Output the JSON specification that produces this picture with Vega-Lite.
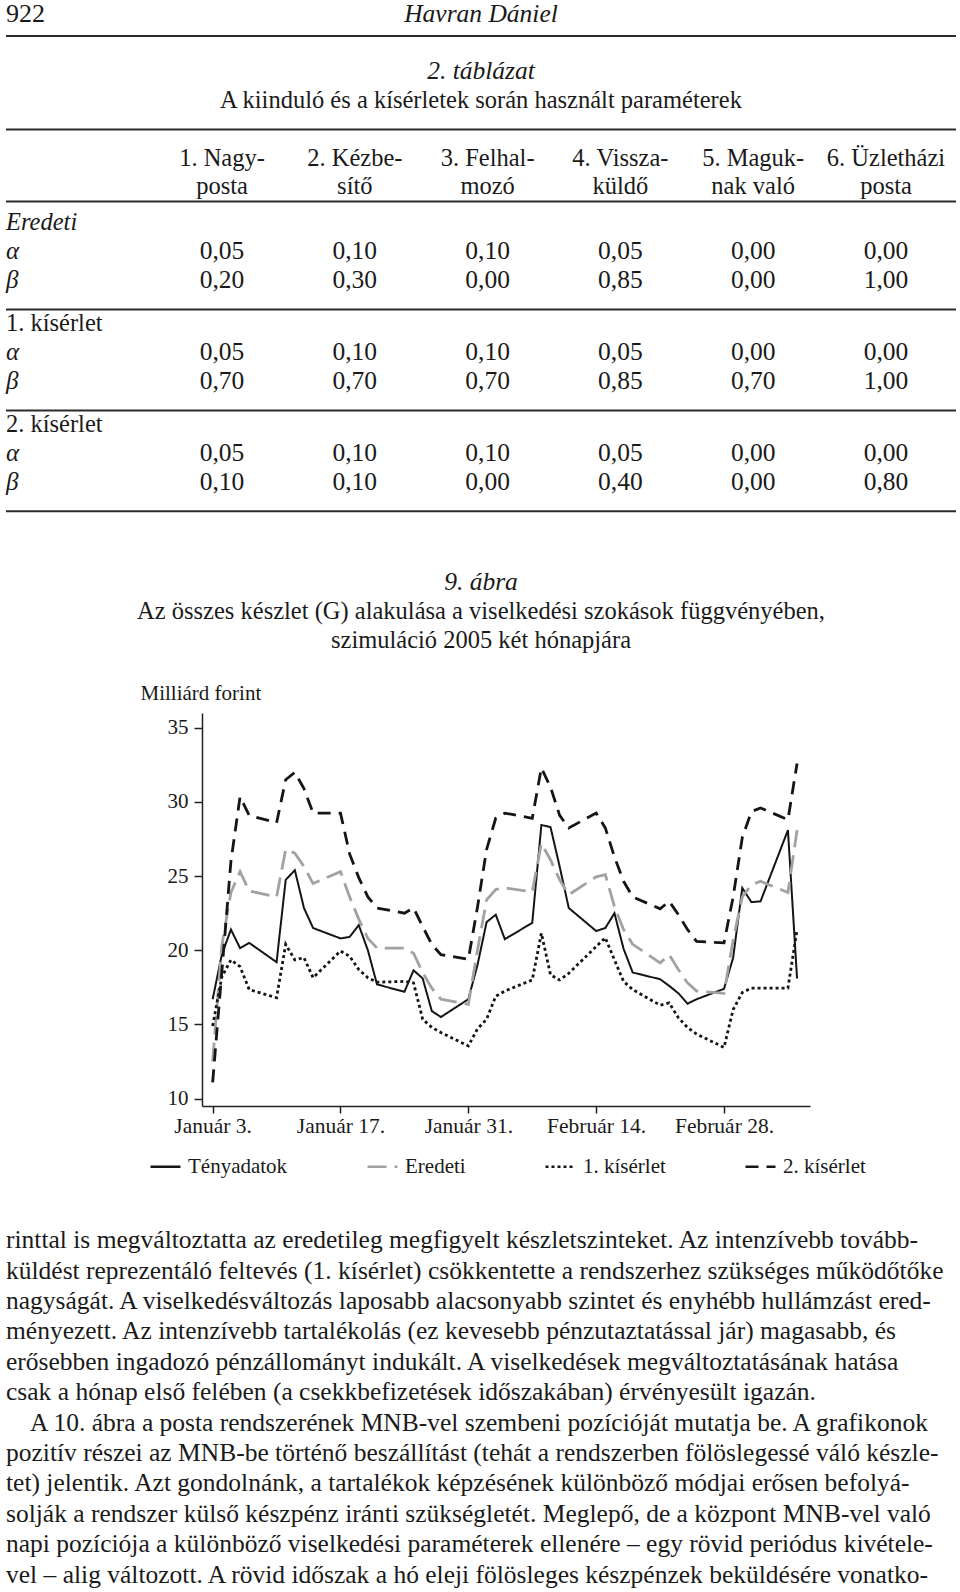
{
  "$schema": "https://vega.github.io/schema/vega-lite/v6.json",
  "padding": {"left": 5, "right": 5, "top": 0, "bottom": 0},
  "autosize": {"type": "pad"},
  "background": "white",
  "config": {
    "view": {"stroke": null},
    "font": "Liberation Serif",
    "locale": {"number": {"decimal": ",", "thousands": " ", "grouping": [3], "currency": ["", " Ft"]}},
    "text": {"font": "Liberation Serif", "color": "#1a1a1a"}
  },
  "datasets": {
    "rules": [
      {"row": "rule-head"}, {"row": "rule-top"}, {"row": "rule-colhead"},
      {"row": "rule-1"}, {"row": "rule-2"}, {"row": "rule-bottom"}
    ],
    "page": [
      {"role": "folio", "row": "folio", "text": "922"},
      {"role": "author", "row": "folio", "text": "Havran Dániel"},
      {"role": "tabno", "row": "tabno", "text": "2. táblázat"},
      {"role": "tabtitle", "row": "tabtitle", "text": "A kiinduló és a kísérletek során használt paraméterek"},
      {"role": "figno", "row": "figno", "text": "9. ábra"},
      {"role": "figtitle", "row": "figtitle1", "text": "Az összes készlet (G) alakulása a viselkedési szokások függvényében,"},
      {"role": "figtitle", "row": "figtitle2", "text": "szimuláció 2005 két hónapjára"}
    ],
    "colheads": [
      {"col": "1. Nagyposta", "row": "colhead1", "text": "1. Nagy-"},
      {"col": "1. Nagyposta", "row": "colhead2", "text": "posta"},
      {"col": "2. Kézbesítő", "row": "colhead1", "text": "2. Kézbe-"},
      {"col": "2. Kézbesítő", "row": "colhead2", "text": "sítő"},
      {"col": "3. Felhalmozó", "row": "colhead1", "text": "3. Felhal-"},
      {"col": "3. Felhalmozó", "row": "colhead2", "text": "mozó"},
      {"col": "4. Visszaküldő", "row": "colhead1", "text": "4. Vissza-"},
      {"col": "4. Visszaküldő", "row": "colhead2", "text": "küldő"},
      {"col": "5. Maguknak való", "row": "colhead1", "text": "5. Maguk-"},
      {"col": "5. Maguknak való", "row": "colhead2", "text": "nak való"},
      {"col": "6. Üzletházi posta", "row": "colhead1", "text": "6. Üzletházi"},
      {"col": "6. Üzletházi posta", "row": "colhead2", "text": "posta"}
    ],
    "groups": [
      {"row": "Eredeti", "label": "Eredeti"},
      {"row": "1. kísérlet", "label": "1. kísérlet"},
      {"row": "2. kísérlet", "label": "2. kísérlet"}
    ],
    "paramlabels": [
      {"row": "Eredeti α", "label": "α"}, {"row": "Eredeti β", "label": "β"},
      {"row": "1. kísérlet α", "label": "α"}, {"row": "1. kísérlet β", "label": "β"},
      {"row": "2. kísérlet α", "label": "α"}, {"row": "2. kísérlet β", "label": "β"}
    ],
    "params": [
      {"row": "Eredeti α", "col": "1. Nagyposta", "value": 0.05},
      {"row": "Eredeti α", "col": "2. Kézbesítő", "value": 0.10},
      {"row": "Eredeti α", "col": "3. Felhalmozó", "value": 0.10},
      {"row": "Eredeti α", "col": "4. Visszaküldő", "value": 0.05},
      {"row": "Eredeti α", "col": "5. Maguknak való", "value": 0.00},
      {"row": "Eredeti α", "col": "6. Üzletházi posta", "value": 0.00},
      {"row": "Eredeti β", "col": "1. Nagyposta", "value": 0.20},
      {"row": "Eredeti β", "col": "2. Kézbesítő", "value": 0.30},
      {"row": "Eredeti β", "col": "3. Felhalmozó", "value": 0.00},
      {"row": "Eredeti β", "col": "4. Visszaküldő", "value": 0.85},
      {"row": "Eredeti β", "col": "5. Maguknak való", "value": 0.00},
      {"row": "Eredeti β", "col": "6. Üzletházi posta", "value": 1.00},
      {"row": "1. kísérlet α", "col": "1. Nagyposta", "value": 0.05},
      {"row": "1. kísérlet α", "col": "2. Kézbesítő", "value": 0.10},
      {"row": "1. kísérlet α", "col": "3. Felhalmozó", "value": 0.10},
      {"row": "1. kísérlet α", "col": "4. Visszaküldő", "value": 0.05},
      {"row": "1. kísérlet α", "col": "5. Maguknak való", "value": 0.00},
      {"row": "1. kísérlet α", "col": "6. Üzletházi posta", "value": 0.00},
      {"row": "1. kísérlet β", "col": "1. Nagyposta", "value": 0.70},
      {"row": "1. kísérlet β", "col": "2. Kézbesítő", "value": 0.70},
      {"row": "1. kísérlet β", "col": "3. Felhalmozó", "value": 0.70},
      {"row": "1. kísérlet β", "col": "4. Visszaküldő", "value": 0.85},
      {"row": "1. kísérlet β", "col": "5. Maguknak való", "value": 0.70},
      {"row": "1. kísérlet β", "col": "6. Üzletházi posta", "value": 1.00},
      {"row": "2. kísérlet α", "col": "1. Nagyposta", "value": 0.05},
      {"row": "2. kísérlet α", "col": "2. Kézbesítő", "value": 0.10},
      {"row": "2. kísérlet α", "col": "3. Felhalmozó", "value": 0.10},
      {"row": "2. kísérlet α", "col": "4. Visszaküldő", "value": 0.05},
      {"row": "2. kísérlet α", "col": "5. Maguknak való", "value": 0.00},
      {"row": "2. kísérlet α", "col": "6. Üzletházi posta", "value": 0.00},
      {"row": "2. kísérlet β", "col": "1. Nagyposta", "value": 0.10},
      {"row": "2. kísérlet β", "col": "2. Kézbesítő", "value": 0.10},
      {"row": "2. kísérlet β", "col": "3. Felhalmozó", "value": 0.00},
      {"row": "2. kísérlet β", "col": "4. Visszaküldő", "value": 0.40},
      {"row": "2. kísérlet β", "col": "5. Maguknak való", "value": 0.00},
      {"row": "2. kísérlet β", "col": "6. Üzletházi posta", "value": 0.80}
    ],
    "series": [
      {"date": "2005-01-03", "series": "Tényadatok", "value": 16.7},
      {"date": "2005-01-04", "series": "Tényadatok", "value": 19.7},
      {"date": "2005-01-05", "series": "Tényadatok", "value": 21.4},
      {"date": "2005-01-06", "series": "Tényadatok", "value": 20.15},
      {"date": "2005-01-07", "series": "Tényadatok", "value": 20.5},
      {"date": "2005-01-10", "series": "Tényadatok", "value": 19.2},
      {"date": "2005-01-11", "series": "Tényadatok", "value": 24.75},
      {"date": "2005-01-12", "series": "Tényadatok", "value": 25.4},
      {"date": "2005-01-13", "series": "Tényadatok", "value": 22.85},
      {"date": "2005-01-14", "series": "Tényadatok", "value": 21.5},
      {"date": "2005-01-17", "series": "Tényadatok", "value": 20.8},
      {"date": "2005-01-18", "series": "Tényadatok", "value": 20.9},
      {"date": "2005-01-19", "series": "Tényadatok", "value": 21.7},
      {"date": "2005-01-20", "series": "Tényadatok", "value": 20.0},
      {"date": "2005-01-21", "series": "Tényadatok", "value": 17.7},
      {"date": "2005-01-24", "series": "Tényadatok", "value": 17.2},
      {"date": "2005-01-25", "series": "Tényadatok", "value": 18.65},
      {"date": "2005-01-26", "series": "Tényadatok", "value": 18.1},
      {"date": "2005-01-27", "series": "Tényadatok", "value": 15.9},
      {"date": "2005-01-28", "series": "Tényadatok", "value": 15.5},
      {"date": "2005-01-31", "series": "Tényadatok", "value": 16.7},
      {"date": "2005-02-01", "series": "Tényadatok", "value": 19.0},
      {"date": "2005-02-02", "series": "Tényadatok", "value": 21.9},
      {"date": "2005-02-03", "series": "Tényadatok", "value": 22.4},
      {"date": "2005-02-04", "series": "Tényadatok", "value": 20.75},
      {"date": "2005-02-07", "series": "Tényadatok", "value": 21.85},
      {"date": "2005-02-08", "series": "Tényadatok", "value": 28.45},
      {"date": "2005-02-09", "series": "Tényadatok", "value": 28.3},
      {"date": "2005-02-10", "series": "Tényadatok", "value": 25.65},
      {"date": "2005-02-11", "series": "Tényadatok", "value": 22.85},
      {"date": "2005-02-14", "series": "Tényadatok", "value": 21.3},
      {"date": "2005-02-15", "series": "Tényadatok", "value": 21.5},
      {"date": "2005-02-16", "series": "Tényadatok", "value": 22.5},
      {"date": "2005-02-17", "series": "Tényadatok", "value": 20.1},
      {"date": "2005-02-18", "series": "Tényadatok", "value": 18.5},
      {"date": "2005-02-21", "series": "Tényadatok", "value": 18.05},
      {"date": "2005-02-22", "series": "Tényadatok", "value": 17.6},
      {"date": "2005-02-23", "series": "Tényadatok", "value": 17.1},
      {"date": "2005-02-24", "series": "Tényadatok", "value": 16.4},
      {"date": "2005-02-25", "series": "Tényadatok", "value": 16.7},
      {"date": "2005-02-28", "series": "Tényadatok", "value": 17.4},
      {"date": "2005-03-01", "series": "Tényadatok", "value": 19.5},
      {"date": "2005-03-02", "series": "Tényadatok", "value": 24.2},
      {"date": "2005-03-03", "series": "Tényadatok", "value": 23.25},
      {"date": "2005-03-04", "series": "Tényadatok", "value": 23.3},
      {"date": "2005-03-07", "series": "Tényadatok", "value": 28.1},
      {"date": "2005-03-08", "series": "Tényadatok", "value": 18.1},
      {"date": "2005-01-03", "series": "Eredeti", "value": 12.5},
      {"date": "2005-01-04", "series": "Eredeti", "value": 20.3},
      {"date": "2005-01-05", "series": "Eredeti", "value": 23.9},
      {"date": "2005-01-06", "series": "Eredeti", "value": 25.3},
      {"date": "2005-01-07", "series": "Eredeti", "value": 24.0},
      {"date": "2005-01-10", "series": "Eredeti", "value": 23.6},
      {"date": "2005-01-11", "series": "Eredeti", "value": 26.8},
      {"date": "2005-01-12", "series": "Eredeti", "value": 26.55},
      {"date": "2005-01-13", "series": "Eredeti", "value": 25.65},
      {"date": "2005-01-14", "series": "Eredeti", "value": 24.5},
      {"date": "2005-01-17", "series": "Eredeti", "value": 25.3},
      {"date": "2005-01-18", "series": "Eredeti", "value": 23.6},
      {"date": "2005-01-19", "series": "Eredeti", "value": 22.1},
      {"date": "2005-01-20", "series": "Eredeti", "value": 20.8},
      {"date": "2005-01-21", "series": "Eredeti", "value": 20.15},
      {"date": "2005-01-24", "series": "Eredeti", "value": 20.15},
      {"date": "2005-01-25", "series": "Eredeti", "value": 19.8},
      {"date": "2005-01-26", "series": "Eredeti", "value": 18.5},
      {"date": "2005-01-27", "series": "Eredeti", "value": 17.45},
      {"date": "2005-01-28", "series": "Eredeti", "value": 16.7},
      {"date": "2005-01-31", "series": "Eredeti", "value": 16.35},
      {"date": "2005-02-01", "series": "Eredeti", "value": 20.0},
      {"date": "2005-02-02", "series": "Eredeti", "value": 23.4},
      {"date": "2005-02-03", "series": "Eredeti", "value": 24.1},
      {"date": "2005-02-04", "series": "Eredeti", "value": 24.2},
      {"date": "2005-02-07", "series": "Eredeti", "value": 23.95},
      {"date": "2005-02-08", "series": "Eredeti", "value": 27.2},
      {"date": "2005-02-09", "series": "Eredeti", "value": 26.1},
      {"date": "2005-02-10", "series": "Eredeti", "value": 24.75},
      {"date": "2005-02-11", "series": "Eredeti", "value": 23.75},
      {"date": "2005-02-14", "series": "Eredeti", "value": 24.95},
      {"date": "2005-02-15", "series": "Eredeti", "value": 25.1},
      {"date": "2005-02-16", "series": "Eredeti", "value": 22.95},
      {"date": "2005-02-17", "series": "Eredeti", "value": 21.4},
      {"date": "2005-02-18", "series": "Eredeti", "value": 20.4},
      {"date": "2005-02-21", "series": "Eredeti", "value": 19.15},
      {"date": "2005-02-22", "series": "Eredeti", "value": 19.7},
      {"date": "2005-02-23", "series": "Eredeti", "value": 18.7},
      {"date": "2005-02-24", "series": "Eredeti", "value": 17.8},
      {"date": "2005-02-25", "series": "Eredeti", "value": 17.25},
      {"date": "2005-02-28", "series": "Eredeti", "value": 17.1},
      {"date": "2005-03-01", "series": "Eredeti", "value": 20.7},
      {"date": "2005-03-02", "series": "Eredeti", "value": 23.6},
      {"date": "2005-03-03", "series": "Eredeti", "value": 24.4},
      {"date": "2005-03-04", "series": "Eredeti", "value": 24.65},
      {"date": "2005-03-07", "series": "Eredeti", "value": 23.9},
      {"date": "2005-03-08", "series": "Eredeti", "value": 28.1},
      {"date": "2005-01-03", "series": "1. kísérlet", "value": 14.9},
      {"date": "2005-01-04", "series": "1. kísérlet", "value": 18.2},
      {"date": "2005-01-05", "series": "1. kísérlet", "value": 19.35},
      {"date": "2005-01-06", "series": "1. kísérlet", "value": 18.9},
      {"date": "2005-01-07", "series": "1. kísérlet", "value": 17.35},
      {"date": "2005-01-10", "series": "1. kísérlet", "value": 16.8},
      {"date": "2005-01-11", "series": "1. kísérlet", "value": 20.4},
      {"date": "2005-01-12", "series": "1. kísérlet", "value": 19.35},
      {"date": "2005-01-13", "series": "1. kísérlet", "value": 19.5},
      {"date": "2005-01-14", "series": "1. kísérlet", "value": 18.15},
      {"date": "2005-01-17", "series": "1. kísérlet", "value": 19.95},
      {"date": "2005-01-18", "series": "1. kísérlet", "value": 19.6},
      {"date": "2005-01-19", "series": "1. kísérlet", "value": 18.7},
      {"date": "2005-01-20", "series": "1. kísérlet", "value": 18.15},
      {"date": "2005-01-21", "series": "1. kísérlet", "value": 17.85},
      {"date": "2005-01-24", "series": "1. kísérlet", "value": 17.9},
      {"date": "2005-01-25", "series": "1. kísérlet", "value": 17.8},
      {"date": "2005-01-26", "series": "1. kísérlet", "value": 15.35},
      {"date": "2005-01-27", "series": "1. kísérlet", "value": 14.8},
      {"date": "2005-01-28", "series": "1. kísérlet", "value": 14.45},
      {"date": "2005-01-31", "series": "1. kísérlet", "value": 13.55},
      {"date": "2005-02-01", "series": "1. kísérlet", "value": 14.7},
      {"date": "2005-02-02", "series": "1. kísérlet", "value": 15.35},
      {"date": "2005-02-03", "series": "1. kísérlet", "value": 16.9},
      {"date": "2005-02-04", "series": "1. kísérlet", "value": 17.25},
      {"date": "2005-02-07", "series": "1. kísérlet", "value": 18.0},
      {"date": "2005-02-08", "series": "1. kísérlet", "value": 21.15},
      {"date": "2005-02-09", "series": "1. kísérlet", "value": 18.35},
      {"date": "2005-02-10", "series": "1. kísérlet", "value": 18.0},
      {"date": "2005-02-11", "series": "1. kísérlet", "value": 18.45},
      {"date": "2005-02-14", "series": "1. kísérlet", "value": 20.25},
      {"date": "2005-02-15", "series": "1. kísérlet", "value": 20.85},
      {"date": "2005-02-16", "series": "1. kísérlet", "value": 19.35},
      {"date": "2005-02-17", "series": "1. kísérlet", "value": 17.9},
      {"date": "2005-02-18", "series": "1. kísérlet", "value": 17.35},
      {"date": "2005-02-21", "series": "1. kísérlet", "value": 16.3},
      {"date": "2005-02-22", "series": "1. kísérlet", "value": 16.45},
      {"date": "2005-02-23", "series": "1. kísérlet", "value": 15.45},
      {"date": "2005-02-24", "series": "1. kísérlet", "value": 14.8},
      {"date": "2005-02-25", "series": "1. kísérlet", "value": 14.35},
      {"date": "2005-02-28", "series": "1. kísérlet", "value": 13.45},
      {"date": "2005-03-01", "series": "1. kísérlet", "value": 16.0},
      {"date": "2005-03-02", "series": "1. kísérlet", "value": 17.15},
      {"date": "2005-03-03", "series": "1. kísérlet", "value": 17.45},
      {"date": "2005-03-04", "series": "1. kísérlet", "value": 17.45},
      {"date": "2005-03-07", "series": "1. kísérlet", "value": 17.45},
      {"date": "2005-03-08", "series": "1. kísérlet", "value": 21.4},
      {"date": "2005-01-03", "series": "2. kísérlet", "value": 11.1},
      {"date": "2005-01-04", "series": "2. kísérlet", "value": 18.5},
      {"date": "2005-01-05", "series": "2. kísérlet", "value": 26.0},
      {"date": "2005-01-06", "series": "2. kísérlet", "value": 30.35},
      {"date": "2005-01-07", "series": "2. kísérlet", "value": 29.1},
      {"date": "2005-01-10", "series": "2. kísérlet", "value": 28.6},
      {"date": "2005-01-11", "series": "2. kísérlet", "value": 31.5},
      {"date": "2005-01-12", "series": "2. kísérlet", "value": 32.0},
      {"date": "2005-01-13", "series": "2. kísérlet", "value": 30.9},
      {"date": "2005-01-14", "series": "2. kísérlet", "value": 29.25},
      {"date": "2005-01-17", "series": "2. kísérlet", "value": 29.25},
      {"date": "2005-01-18", "series": "2. kísérlet", "value": 26.5},
      {"date": "2005-01-19", "series": "2. kísérlet", "value": 24.9},
      {"date": "2005-01-20", "series": "2. kísérlet", "value": 23.6},
      {"date": "2005-01-21", "series": "2. kísérlet", "value": 22.85},
      {"date": "2005-01-24", "series": "2. kísérlet", "value": 22.5},
      {"date": "2005-01-25", "series": "2. kísérlet", "value": 22.85},
      {"date": "2005-01-26", "series": "2. kísérlet", "value": 21.6},
      {"date": "2005-01-27", "series": "2. kísérlet", "value": 20.4},
      {"date": "2005-01-28", "series": "2. kísérlet", "value": 19.7},
      {"date": "2005-01-31", "series": "2. kísérlet", "value": 19.4},
      {"date": "2005-02-01", "series": "2. kísérlet", "value": 22.9},
      {"date": "2005-02-02", "series": "2. kísérlet", "value": 26.8},
      {"date": "2005-02-03", "series": "2. kísérlet", "value": 28.9},
      {"date": "2005-02-04", "series": "2. kísérlet", "value": 29.25},
      {"date": "2005-02-07", "series": "2. kísérlet", "value": 28.9},
      {"date": "2005-02-08", "series": "2. kísérlet", "value": 32.3},
      {"date": "2005-02-09", "series": "2. kísérlet", "value": 31.0},
      {"date": "2005-02-10", "series": "2. kísérlet", "value": 29.1},
      {"date": "2005-02-11", "series": "2. kísérlet", "value": 28.25},
      {"date": "2005-02-14", "series": "2. kísérlet", "value": 29.25},
      {"date": "2005-02-15", "series": "2. kísérlet", "value": 28.25},
      {"date": "2005-02-16", "series": "2. kísérlet", "value": 26.3},
      {"date": "2005-02-17", "series": "2. kísérlet", "value": 24.65},
      {"date": "2005-02-18", "series": "2. kísérlet", "value": 23.6},
      {"date": "2005-02-21", "series": "2. kísérlet", "value": 22.8},
      {"date": "2005-02-22", "series": "2. kísérlet", "value": 23.3},
      {"date": "2005-02-23", "series": "2. kísérlet", "value": 22.4},
      {"date": "2005-02-24", "series": "2. kísérlet", "value": 21.4},
      {"date": "2005-02-25", "series": "2. kísérlet", "value": 20.6},
      {"date": "2005-02-28", "series": "2. kísérlet", "value": 20.5},
      {"date": "2005-03-01", "series": "2. kísérlet", "value": 23.6},
      {"date": "2005-03-02", "series": "2. kísérlet", "value": 27.6},
      {"date": "2005-03-03", "series": "2. kísérlet", "value": 29.35},
      {"date": "2005-03-04", "series": "2. kísérlet", "value": 29.6},
      {"date": "2005-03-07", "series": "2. kísérlet", "value": 28.8},
      {"date": "2005-03-08", "series": "2. kísérlet", "value": 32.6}
    ],
    "body": [
      {"line": "1", "paragraph_start": "no", "text": "rinttal is megváltoztatta az eredetileg megfigyelt készletszinteket. Az intenzívebb tovább-"},
      {"line": "2", "paragraph_start": "no", "text": "küldést reprezentáló feltevés (1. kísérlet) csökkentette a rendszerhez szükséges működőtőke"},
      {"line": "3", "paragraph_start": "no", "text": "nagyságát. A viselkedésváltozás laposabb alacsonyabb szintet és enyhébb hullámzást ered-"},
      {"line": "4", "paragraph_start": "no", "text": "ményezett. Az intenzívebb tartalékolás (ez kevesebb pénzutaztatással jár) magasabb, és"},
      {"line": "5", "paragraph_start": "no", "text": "erősebben ingadozó pénzállományt indukált. A viselkedések megváltoztatásának hatása"},
      {"line": "6", "paragraph_start": "no", "text": "csak a hónap első felében (a csekkbefizetések időszakában) érvényesült igazán."},
      {"line": "7", "paragraph_start": "yes", "text": "A 10. ábra a posta rendszerének MNB-vel szembeni pozícióját mutatja be. A grafikonok"},
      {"line": "8", "paragraph_start": "no", "text": "pozitív részei az MNB-be történő beszállítást (tehát a rendszerben fölöslegessé váló készle-"},
      {"line": "9", "paragraph_start": "no", "text": "tet) jelentik. Azt gondolnánk, a tartalékok képzésének különböző módjai erősen befolyá-"},
      {"line": "10", "paragraph_start": "no", "text": "solják a rendszer külső készpénz iránti szükségletét. Meglepő, de a központ MNB-vel való"},
      {"line": "11", "paragraph_start": "no", "text": "napi pozíciója a különböző viselkedési paraméterek ellenére – egy rövid periódus kivétele-"},
      {"line": "12", "paragraph_start": "no", "text": "vel – alig változott. A rövid időszak a hó eleji fölösleges készpénzek beküldésére vonatko-"}
    ]
  },
  "bounds": "flush",
  "spacing": 0,
  "resolve": {
    "scale": {"x": "independent", "y": "independent"},
    "legend": {"color": "independent", "strokeDash": "independent"}
  },
  "vconcat": [
    {
      "width": 950,
      "height": 712.8,
      "encoding": {
        "y": {
          "field": "row", "type": "ordinal", "axis": null,
          "scale": {"type": "point", "padding": 0, "domain": ["s0","s1","s2","folio","s4","rule-head","s6","s7","s8","s9","s10","tabno","s12","s13","s14","tabtitle","s16","s17","rule-top","s19","s20","s21","s22","colhead1","s24","s25","s26","colhead2","rule-colhead","s29","s30","s31","Eredeti","s33","s34","s35","Eredeti α","s37","s38","s39","Eredeti β","s41","s42","rule-1","s44","s45","1. kísérlet","s47","s48","s49","1. kísérlet α","s51","s52","s53","1. kísérlet β","s55","s56","rule-2","s58","s59","2. kísérlet","s61","s62","s63","2. kísérlet α","s65","s66","s67","2. kísérlet β","s69","s70","rule-bottom","s72","s73","s74","s75","s76","s77","s78","s79","s80","s81","figno","s83","s84","s85","figtitle1","s87","s88","s89","figtitle2","s91","s92","s93","s94","s95","s96","s97","s98","s99"]}
        }
      },
      "layer": [
        {"data": {"name": "rules"}, "mark": {"type": "rule", "strokeWidth": 2, "color": "#2a2a2a"}},
        {"data": {"name": "page"}, "transform": [{"filter": "datum.role == 'folio'"}],
         "mark": {"type": "text", "align": "left", "baseline": "alphabetic", "fontSize": 26},
         "encoding": {"x": {"value": 0}, "text": {"field": "text"}}},
        {"data": {"name": "page"}, "transform": [{"filter": "datum.role == 'author' || datum.role == 'tabno' || datum.role == 'figno'"}],
         "mark": {"type": "text", "align": "center", "baseline": "alphabetic", "fontSize": 25.5, "fontStyle": "italic"},
         "encoding": {"text": {"field": "text"}}},
        {"data": {"name": "page"}, "transform": [{"filter": "datum.role == 'tabtitle' || datum.role == 'figtitle'"}],
         "mark": {"type": "text", "align": "center", "baseline": "alphabetic", "fontSize": 24.5},
         "encoding": {"text": {"field": "text"}}},
        {"data": {"name": "colheads"},
         "mark": {"type": "text", "align": "center", "baseline": "alphabetic", "fontSize": 24.5},
         "encoding": {
           "x": {"field": "col", "type": "ordinal", "axis": null, "scale": {"type": "point", "padding": 0, "domain": ["1. Nagyposta","2. Kézbesítő","3. Felhalmozó","4. Visszaküldő","5. Maguknak való","6. Üzletházi posta"], "range": [216, 880]}},
           "text": {"field": "text"}}},
        {"data": {"name": "params"},
         "mark": {"type": "text", "align": "center", "baseline": "alphabetic", "fontSize": 25.5},
         "encoding": {
           "x": {"field": "col", "type": "ordinal", "axis": null, "scale": {"type": "point", "padding": 0, "domain": ["1. Nagyposta","2. Kézbesítő","3. Felhalmozó","4. Visszaküldő","5. Maguknak való","6. Üzletházi posta"], "range": [216, 880]}},
           "text": {"field": "value", "type": "quantitative", "format": ".2f"}}},
        {"data": {"name": "groups"}, "transform": [{"filter": "datum.label == 'Eredeti'"}],
         "mark": {"type": "text", "align": "left", "baseline": "alphabetic", "fontSize": 24.5, "fontStyle": "italic"},
         "encoding": {"x": {"value": 0}, "text": {"field": "label"}}},
        {"data": {"name": "groups"}, "transform": [{"filter": "datum.label != 'Eredeti'"}],
         "mark": {"type": "text", "align": "left", "baseline": "alphabetic", "fontSize": 24.5},
         "encoding": {"x": {"value": 0}, "text": {"field": "label"}}},
        {"data": {"name": "paramlabels"},
         "mark": {"type": "text", "align": "left", "baseline": "alphabetic", "fontSize": 25, "fontStyle": "italic"},
         "encoding": {"x": {"value": 0}, "text": {"field": "label"}}}
      ]
    },
    {
      "width": 950, "height": 393,
      "data": {"name": "series"},
      "encoding": {
        "x": {
          "field": "date", "type": "temporal",
          "scale": {"type": "utc", "range": [196, 804], "domain": [{"year": 2005, "month": 1, "date": 1, "hours": 20, "utc": true}, {"year": 2005, "month": 3, "date": 9, "hours": 10, "utc": true}]},
          "axis": {
            "title": null, "grid": false,
            "values": [
              {"year": 2005, "month": 1, "date": 3, "utc": true},
              {"year": 2005, "month": 1, "date": 17, "utc": true},
              {"year": 2005, "month": 1, "date": 31, "utc": true},
              {"year": 2005, "month": 2, "date": 14, "utc": true},
              {"year": 2005, "month": 2, "date": 28, "utc": true}
            ],
            "labelExpr": "(utcmonth(datum.value) == 0 ? 'Január ' : 'Február ') + utcdate(datum.value) + '.'",
            "tickSize": 7, "tickWidth": 1.5, "tickColor": "#222",
            "domainColor": "#222", "domainWidth": 1.5,
            "labelFont": "Liberation Serif", "labelFontSize": 21.5, "labelColor": "#1a1a1a",
            "labelPadding": 2, "labelFlush": false, "labelOverlap": false
          }
        },
        "y": {
          "field": "value", "type": "quantitative",
          "scale": {"domain": [9.5, 36], "nice": false, "zero": false},
          "axis": {
            "values": [10, 15, 20, 25, 30, 35], "grid": false, "offset": -196,
            "tickSize": 8, "tickWidth": 1.5, "tickColor": "#222",
            "domainColor": "#222", "domainWidth": 1.5,
            "labelFont": "Liberation Serif", "labelFontSize": 21, "labelColor": "#1a1a1a",
            "labelPadding": 6, "labelFlush": false, "labelOverlap": false,
            "title": "Milliárd forint", "titleAngle": 0, "titleAlign": "left", "titleBaseline": "alphabetic",
            "titleX": -62, "titleY": -14, "titleFont": "Liberation Serif", "titleFontSize": 21,
            "titleFontWeight": "normal", "titleColor": "#1a1a1a"
          }
        },
        "color": {
          "field": "series", "type": "nominal",
          "scale": {"domain": ["Tényadatok", "Eredeti", "1. kísérlet", "2. kísérlet"], "range": ["#151515", "#a2a2a2", "#151515", "#151515"]},
          "legend": {
            "orient": "none", "legendX": 143, "legendY": 437, "direction": "horizontal", "columns": 4,
            "columnPadding": 74, "symbolType": "stroke", "symbolSize": 900, "symbolStrokeWidth": 2.6,
            "labelFont": "Liberation Serif", "labelFontSize": 21, "labelColor": "#1a1a1a", "labelOffset": 6,
            "title": null, "padding": 0, "labelLimit": 300
          }
        },
        "strokeDash": {
          "field": "series", "type": "nominal",
          "scale": {"domain": ["Tényadatok", "Eredeti", "1. kísérlet", "2. kísérlet"], "range": [[1, 0], [19, 8], [3, 3], [13, 8]]},
          "legend": {
            "orient": "none", "legendX": 143, "legendY": 437, "direction": "horizontal", "columns": 4,
            "columnPadding": 74, "symbolType": "stroke", "symbolSize": 900, "symbolStrokeWidth": 2.6,
            "labelFont": "Liberation Serif", "labelFontSize": 21, "labelColor": "#1a1a1a", "labelOffset": 6,
            "title": null, "padding": 0, "labelLimit": 300
          }
        }
      },
      "layer": [
        {"transform": [{"filter": "datum.series == 'Tényadatok'"}], "mark": {"type": "line", "strokeWidth": 2, "strokeCap": "butt"}},
        {"transform": [{"filter": "datum.series != 'Tényadatok'"}], "mark": {"type": "line", "strokeWidth": 2.8, "strokeCap": "butt"}}
      ]
    },
    {
      "width": 950,
      "height": 497.2,
      "data": {"name": "body"},
      "mark": {"type": "text", "align": "left", "baseline": "alphabetic", "fontSize": 25.5},
      "encoding": {
        "y": {"field": "line", "type": "ordinal", "axis": null,
              "scale": {"type": "point", "padding": 0.678, "domain": ["·1","·2","·3","·4","1","2","3","4","5","6","7","8","9","10","11","12"]}},
        "x": {"field": "paragraph_start", "type": "nominal", "axis": null,
              "scale": {"type": "point", "padding": 0, "domain": ["no", "yes"], "range": [0, 24]}},
        "text": {"field": "text"}
      }
    }
  ]
}
